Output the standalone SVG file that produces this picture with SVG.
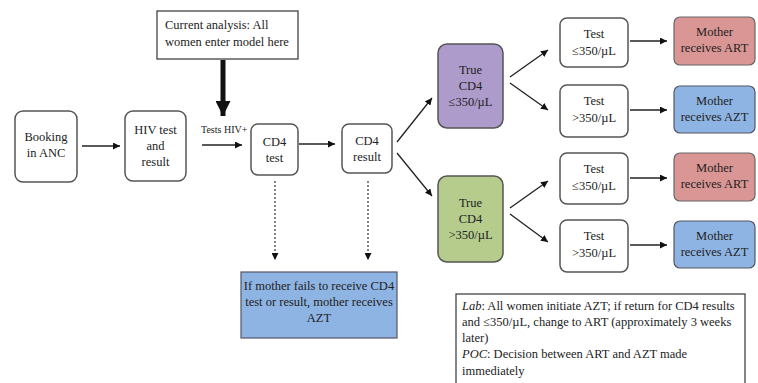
<svg xmlns="http://www.w3.org/2000/svg" width="758" height="383" viewBox="0 0 758 383" font-family="'Liberation Serif', 'DejaVu Serif', serif">
<style>
text{font-family:'Liberation Serif','DejaVu Serif',serif;fill:#222;font-size:12.5px}
.c{text-anchor:middle}
.sm{font-size:10px}
.n{fill:#fff;stroke:#555;stroke-width:1.5}
.pu{fill:#ad9bcb;stroke:#555;stroke-width:1.5}
.gr{fill:#b5cc8d;stroke:#555;stroke-width:1.5}
.rd{fill:#d99694;stroke:#666;stroke-width:1.2}
.bl{fill:#8eb4e3;stroke:#556;stroke-width:1.2}
.sq{fill:#fff;stroke:#444;stroke-width:1.3}
.ln{stroke:#222;stroke-width:1.3;fill:none}
.dt{stroke:#333;stroke-width:1.2;fill:none;stroke-dasharray:2,2}
</style>
<defs>
<marker id="ah" viewBox="0 0 10 10" refX="10" refY="5" markerWidth="7" markerHeight="7" markerUnits="userSpaceOnUse" orient="auto"><path d="M0,0 L10,5 L0,10 Z" fill="#111"/></marker>
<marker id="big" viewBox="0 0 10 10" refX="10" refY="5" markerWidth="3" markerHeight="3" orient="auto"><path d="M0,0 L10,5 L0,10 Z" fill="#111"/></marker>
</defs>
<rect width="758" height="383" fill="#fff"/>

<g id="connectors">
<line class="ln" x1="82" y1="146" x2="120" y2="146" marker-end="url(#ah)"/>
<line class="ln" x1="202" y1="145" x2="242" y2="145" marker-end="url(#ah)"/>
<line class="ln" x1="299" y1="144" x2="335" y2="144" marker-end="url(#ah)"/>
<line x1="223" y1="60" x2="223" y2="116" stroke="#111" stroke-width="5" marker-end="url(#big)"/>
<line class="ln" x1="397" y1="142" x2="432" y2="98" marker-end="url(#ah)"/>
<line class="ln" x1="397" y1="153" x2="432" y2="196" marker-end="url(#ah)"/>
<line class="ln" x1="510" y1="77" x2="548" y2="50" marker-end="url(#ah)"/>
<line class="ln" x1="510" y1="83" x2="548" y2="110" marker-end="url(#ah)"/>
<line class="ln" x1="510" y1="208" x2="548" y2="181" marker-end="url(#ah)"/>
<line class="ln" x1="510" y1="214" x2="548" y2="242" marker-end="url(#ah)"/>
<line class="ln" x1="630" y1="41" x2="667" y2="41" marker-end="url(#ah)"/>
<line class="ln" x1="630" y1="110" x2="667" y2="110" marker-end="url(#ah)"/>
<line class="ln" x1="630" y1="178" x2="667" y2="178" marker-end="url(#ah)"/>
<line class="ln" x1="630" y1="245" x2="667" y2="245" marker-end="url(#ah)"/>
<line class="dt" x1="275" y1="181" x2="275" y2="260" marker-end="url(#ah)"/>
<line class="dt" x1="368" y1="181" x2="368" y2="260" marker-end="url(#ah)"/>
<text class="sm" x="201" y="133">Tests HIV+</text>
</g>

<g id="current">
<rect class="sq" x="157" y="11" width="141" height="48"/>
<text x="165" y="29">Current analysis: All</text>
<text x="165" y="46">women enter model here</text>
</g>

<g id="booking">
<rect class="n" x="15" y="111" width="62" height="71" rx="8"/>
<text class="c" x="46" y="141">Booking</text>
<text class="c" x="46" y="157">in ANC</text>
</g>

<g id="hiv">
<rect class="n" x="125" y="111" width="61" height="70" rx="8"/>
<text class="c" x="155.5" y="134">HIV test</text>
<text class="c" x="155.5" y="150">and</text>
<text class="c" x="155.5" y="166">result</text>
</g>

<g id="cd4test">
<rect class="n" x="251" y="124" width="47" height="51" rx="7"/>
<text class="c" x="274.5" y="146">CD4</text>
<text class="c" x="274.5" y="162">test</text>
</g>

<g id="cd4result">
<rect class="n" x="342" y="124" width="50" height="49" rx="7"/>
<text class="c" x="367" y="145">CD4</text>
<text class="c" x="367" y="161">result</text>
</g>

<g id="truelow">
<rect class="pu" x="438" y="44" width="65" height="84" rx="9"/>
<text class="c" x="470.5" y="74">True</text>
<text class="c" x="470.5" y="90">CD4</text>
<text class="c" x="470.5" y="106">≤350/µL</text>
</g>

<g id="truehigh">
<rect class="gr" x="438" y="176" width="65" height="86" rx="9"/>
<text class="c" x="470.5" y="207">True</text>
<text class="c" x="470.5" y="223">CD4</text>
<text class="c" x="470.5" y="239">&gt;350/µL</text>
</g>

<g id="test1">
<rect class="n" x="560" y="18" width="68" height="49" rx="7"/>
<text class="c" x="594" y="38">Test</text>
<text class="c" x="594" y="55">≤350/µL</text>
</g>
<g id="test2">
<rect class="n" x="560" y="85" width="68" height="52" rx="7"/>
<text class="c" x="594" y="105">Test</text>
<text class="c" x="594" y="122">&gt;350/µL</text>
</g>
<g id="test3">
<rect class="n" x="560" y="153" width="68" height="51" rx="7"/>
<text class="c" x="594" y="173">Test</text>
<text class="c" x="594" y="190">≤350/µL</text>
</g>
<g id="test4">
<rect class="n" x="560" y="220" width="68" height="52" rx="7"/>
<text class="c" x="594" y="240">Test</text>
<text class="c" x="594" y="257">&gt;350/µL</text>
</g>

<g id="mother1">
<rect class="rd" x="674" y="17" width="81" height="48" rx="6"/>
<text class="c" x="714.5" y="36">Mother</text>
<text class="c" x="714.5" y="52">receives ART</text>
</g>
<g id="mother2">
<rect class="bl" x="674" y="86" width="81" height="47" rx="6"/>
<text class="c" x="714.5" y="105">Mother</text>
<text class="c" x="714.5" y="121">receives AZT</text>
</g>
<g id="mother3">
<rect class="rd" x="674" y="153" width="81" height="48" rx="6"/>
<text class="c" x="714.5" y="172">Mother</text>
<text class="c" x="714.5" y="188">receives ART</text>
</g>
<g id="mother4">
<rect class="bl" x="674" y="221" width="81" height="47" rx="6"/>
<text class="c" x="714.5" y="240">Mother</text>
<text class="c" x="714.5" y="256">receives AZT</text>
</g>

<g id="fail">
<rect class="bl" x="241" y="272" width="156" height="66"/>
<text class="c" x="319" y="290">If mother fails to receive CD4</text>
<text class="c" x="319" y="306">test or result, mother receives</text>
<text class="c" x="319" y="322">AZT</text>
</g>

<g id="note">
<rect class="sq" x="456" y="294" width="289" height="95"/>
<text x="462" y="310"><tspan font-style="italic">Lab</tspan>: All women initiate AZT; if return for CD4 results</text>
<text x="462" y="326">and ≤350/µL, change to ART (approximately 3 weeks</text>
<text x="462" y="342">later)</text>
<text x="462" y="358"><tspan font-style="italic">POC</tspan>: Decision between ART and AZT made</text>
<text x="462" y="375">immediately</text>
</g>
</svg>
